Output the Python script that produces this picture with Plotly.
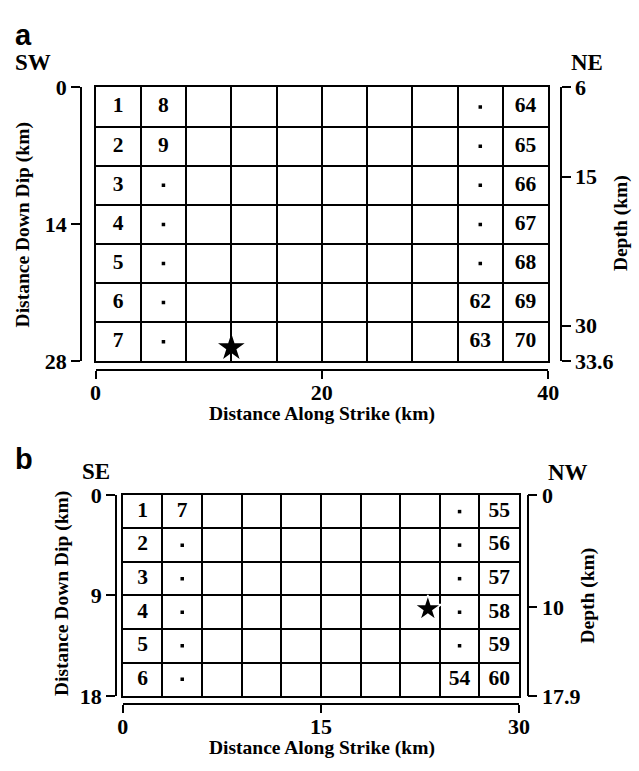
import plotly.graph_objects as go

W, H = 639, 771

# ---------------- data ----------------
# Panel a: fault 40 km along strike x 28 km down dip, 10 x 7 subfaults (4 km each)
a_strike_len = 40
a_dip_len = 28
a_cell = 4
a_col_centers = [2, 6, 34, 38]          # columns that carry labels
a_labels = [
    ["1", "2", "3", "4", "5", "6", "7"],
    ["8", "9", ".", ".", ".", ".", "."],
    [".", ".", ".", ".", ".", "62", "63"],
    ["64", "65", "66", "67", "68", "69", "70"],
]
a_row_centers = [2, 6, 10, 14, 18, 22, 26]
a_star = (12, 26.6)
a_xticks = [0, 20, 40]
a_yticks = [0, 14, 28]
a_depth_ticks = [6, 15, 30, 33.6]
a_depth_text = ["6", "15", "30", "33.6"]
a_depth_range = (6, 33.6)

# Panel b: fault 30 km along strike x 18 km down dip, 10 x 6 subfaults (3 km each)
b_strike_len = 30
b_dip_len = 18
b_cell = 3
b_col_centers = [1.5, 4.5, 25.5, 28.5]
b_labels = [
    ["1", "2", "3", "4", "5", "6"],
    ["7", ".", ".", ".", ".", "."],
    [".", ".", ".", ".", ".", "54"],
    ["55", "56", "57", "58", "59", "60"],
]
b_row_centers = [1.5, 4.5, 7.5, 10.5, 13.5, 16.5]
b_star = (23.1, 10.2)
b_xticks = [0, 15, 30]
b_yticks = [0, 9, 18]
b_depth_ticks = [0, 10, 17.9]
b_depth_text = ["0", "10", "17.9"]
b_depth_range = (0, 17.9)

# ---------------- helpers ----------------
def px(x):
    return x / W

def py(y):
    return 1 - y / H

SERIF = "Liberation Serif"
tickfont = dict(family=SERIF, size=22, color="black", weight="bold")

fig = go.Figure()


def add_panel(xa, ya, xf, yl, yr, col_centers, row_centers, labels, star,
              star_line):
    txt_x, txt_y, txt = [], [], []
    dot_x, dot_y = [], []
    for cx, col in zip(col_centers, labels):
        for cy, lab in zip(row_centers, col):
            if lab == ".":
                dot_x.append(cx)
                dot_y.append(cy)
            else:
                txt_x.append(cx)
                txt_y.append(cy)
                txt.append(lab)
    fig.add_trace(go.Scatter(
        x=txt_x, y=txt_y, text=txt, mode="text", xaxis=xa, yaxis=ya,
        textfont=dict(family=SERIF, size=21.5, color="black", weight="bold"),
        hoverinfo="skip", showlegend=False))
    fig.add_trace(go.Scatter(
        x=dot_x, y=dot_y, mode="markers", xaxis=xa, yaxis=ya,
        marker=dict(size=3.5, color="black", symbol="square"),
        hoverinfo="skip", showlegend=False))
    fig.add_trace(go.Scatter(
        x=[star[0]], y=[star[1]], mode="markers", xaxis=xa, yaxis=ya,
        marker=dict(size=20, color="black", symbol="star",
                    line=dict(color="white", width=star_line)),
        hoverinfo="skip", showlegend=False))
    # dummy traces so free axes get drawn
    fig.add_trace(go.Scatter(x=[None], y=[None], xaxis=xf, yaxis=yl,
                             showlegend=False, hoverinfo="skip"))
    fig.add_trace(go.Scatter(x=[None], y=[None], xaxis=xa, yaxis=yr,
                             showlegend=False, hoverinfo="skip"))


add_panel("x", "y", "x2", "y2", "y3", a_col_centers, a_row_centers, a_labels,
          a_star, 0)
add_panel("x3", "y4", "x4", "y5", "y6", b_col_centers, b_row_centers, b_labels,
          b_star, 1.5)


def grid_axis(domain, rng, dtick, anchor):
    return dict(domain=domain, range=rng, dtick=dtick, tick0=0, anchor=anchor,
                showgrid=True, gridcolor="black", gridwidth=1.5,
                showline=True, linecolor="black", linewidth=2, mirror=True,
                showticklabels=False, ticks="", zeroline=False, fixedrange=True)


def free_x(overlay, rng, tickvals, pos):
    return dict(overlaying=overlay, anchor="free", position=pos, side="bottom",
                range=rng, tickvals=tickvals, ticks="outside", ticklen=8,
                tickwidth=1.5, tickcolor="black", showline=True,
                linecolor="black", linewidth=1.5, showgrid=False,
                zeroline=False, tickfont=tickfont, fixedrange=True,
                ticklabelstandoff=-5)


def free_y(overlay, rng, tickvals, pos, side, ticktext=None):
    d = dict(overlaying=overlay, anchor="free", position=pos, side=side,
             range=rng, tickvals=tickvals, ticks="outside", ticklen=9,
             tickwidth=1.5, tickcolor="black", showline=True,
             linecolor="black", linewidth=1.5, showgrid=False,
             zeroline=False, tickfont=tickfont, fixedrange=True)
    if ticktext is not None:
        d["ticktext"] = ticktext
    return d


a_xdom = [px(92), px(557)]
a_ydom = [py(361), py(78)]
b_xdom = [px(120), px(527)]
b_ydom = [py(707), py(499)]

fig.update_layout(
    width=W, height=H,
    margin=dict(l=0, r=0, t=0, b=0),
    paper_bgcolor="white", plot_bgcolor="rgba(0,0,0,0)",
    showlegend=False,
    xaxis=grid_axis(a_xdom, [0, a_strike_len], a_cell, "y"),
    yaxis=grid_axis(a_ydom, [a_dip_len, 0], a_cell, "x"),
    xaxis2=free_x("x", [0, a_strike_len], a_xticks, py(370)),
    yaxis2=free_y("y", [a_dip_len, 0], a_yticks, px(77), "left"),
    yaxis3=free_y("y", [a_depth_range[1], a_depth_range[0]], a_depth_ticks,
                  px(570), "right", a_depth_text),
    xaxis3=grid_axis(b_xdom, [0, b_strike_len], b_cell, "y4"),
    yaxis4=grid_axis(b_ydom, [b_dip_len, 0], b_cell, "x3"),
    xaxis4=free_x("x3", [0, b_strike_len], b_xticks, py(715)),
    yaxis5=free_y("y4", [b_dip_len, 0], b_yticks, px(113), "left"),
    yaxis6=free_y("y4", [b_depth_range[1], b_depth_range[0]], b_depth_ticks,
                  px(536), "right", b_depth_text),
)

title_font = dict(family=SERIF, size=19.5, color="black", weight="bold")
dir_font = dict(family=SERIF, size=23, color="black", weight="bold")
panel_font = dict(family="Liberation Sans", size=29, color="black", weight="bold")

ann = [
    # panel a
    dict(text="a", x=px(18), y=py(24), font=panel_font),
    dict(text="SW", x=px(28), y=py(52), font=dir_font),
    dict(text="NE", x=px(597), y=py(52), font=dir_font),
    dict(text="Distance Along Strike (km)", x=px(325), y=py(415), font=title_font),
    dict(text="Distance Down Dip (km)", x=px(17), y=py(220), font=title_font,
         textangle=-90),
    dict(text="Depth (km)", x=px(632), y=py(218), font=title_font, textangle=-90),
    # panel b
    dict(text="b", x=px(19), y=py(462), font=panel_font),
    dict(text="SE", x=px(92), y=py(475), font=dir_font),
    dict(text="NW", x=px(577), y=py(476), font=dir_font),
    dict(text="Distance Along Strike (km)", x=px(325), y=py(761), font=title_font),
    dict(text="Distance Down Dip (km)", x=px(57), y=py(601), font=title_font,
         textangle=-90),
    dict(text="Depth (km)", x=px(598), y=py(603), font=title_font, textangle=-90),
]
for a in ann:
    a.update(xref="paper", yref="paper", showarrow=False,
             xanchor="center", yanchor="middle")
fig.update_layout(annotations=ann)

fig.write_html("out.html")
